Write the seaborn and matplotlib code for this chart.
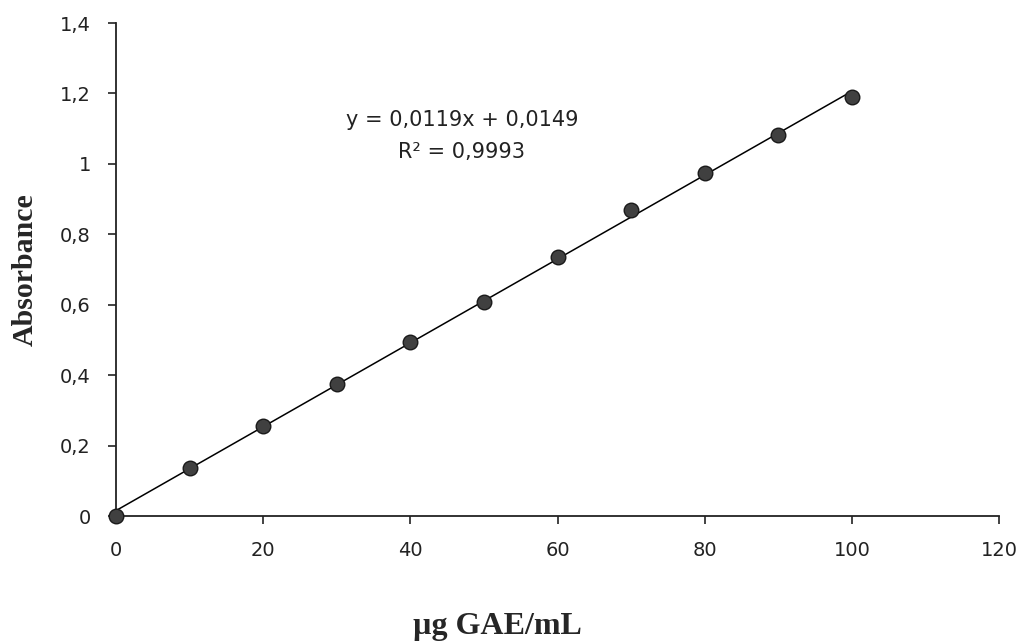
import numpy as np
import pandas as pd
import matplotlib
matplotlib.use("Agg")
import matplotlib.pyplot as plt
import seaborn as sns

# gallic acid calibration data
concentration = [0, 10, 20, 30, 40, 50, 60, 70, 80, 90, 100]
absorbance = [0.0, 0.136, 0.256, 0.376, 0.495, 0.609, 0.736, 0.869, 0.973, 1.082, 1.189]
x_ticks = [0, 20, 40, 60, 80, 100, 120]
y_ticks = [0, 0.2, 0.4, 0.6, 0.8, 1.0, 1.2, 1.4]
equation = "y = 0,0119x + 0,0149"
r_squared = "R² = 0,9993"

df = pd.DataFrame({"conc": concentration, "abs": absorbance})

sns.set_style("ticks")
plt.rcParams["font.family"] = ["DejaVu Sans"]

fig = plt.figure(figsize=(10.26, 6.41), dpi=100)
ax = fig.add_axes([0.113, 0.195, 0.861, 0.769])

# trendline (linear fit), then the points on top
sns.regplot(data=df, x="conc", y="abs", ax=ax, ci=None, truncate=True,
            scatter=False, line_kws={"color": "black", "lw": 1.1, "zorder": 2})
sns.scatterplot(data=df, x="conc", y="abs", ax=ax, s=110, color="#404040",
                edgecolor="#1a1a1a", linewidth=1.0, zorder=3, clip_on=False)

ax.set_xlim(0, 120)
ax.set_ylim(0, 1.4)
ax.set_xticks(x_ticks)
ax.set_yticks(y_ticks)
ax.set_xticklabels([str(v) for v in x_ticks])
ax.set_yticklabels([("%g" % v).replace(".", ",") for v in y_ticks])
ax.tick_params(axis="both", direction="out", length=6, width=1.2,
               color="#222222", labelsize=14, labelcolor="#222222")
ax.tick_params(axis="x", pad=12)
ax.tick_params(axis="y", pad=12)

for s in ["top", "right"]:
    ax.spines[s].set_visible(False)
for s in ["left", "bottom"]:
    ax.spines[s].set_linewidth(1.3)
    ax.spines[s].set_color("#222222")

ax.set_xlabel("")
ax.set_ylabel("")

ax.text(47, 1.125, equation, ha="center", va="center", fontsize=15, color="#222222")
ax.text(47, 1.034, r_squared, ha="center", va="center", fontsize=15, color="#222222")

fig.text(0.485, 0.022, "µg GAE/mL", ha="center", va="center",
         family="Liberation Serif", fontweight="bold", fontsize=23)
fig.text(0.025, 0.580, "Absorbance", ha="center", va="center", rotation=90,
         family="Liberation Serif", fontweight="bold", fontsize=21.5)

fig.savefig("out.png", dpi=100, facecolor="white")
